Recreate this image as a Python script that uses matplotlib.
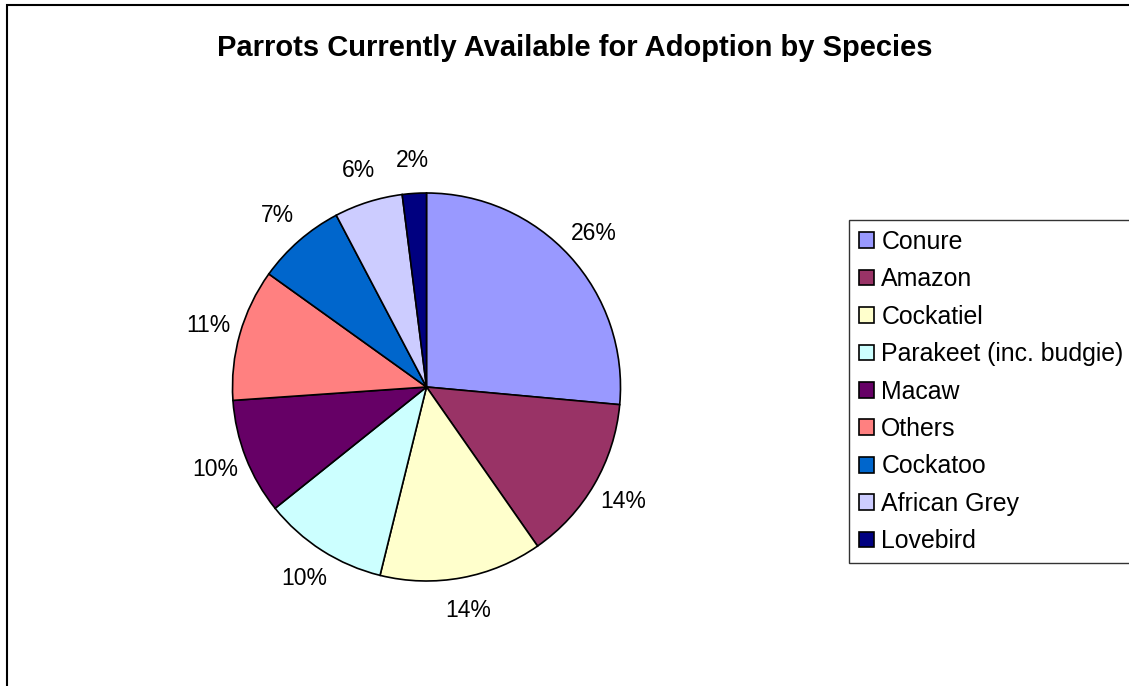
import matplotlib.pyplot as plt
from matplotlib.patches import Rectangle

plt.rcParams['font.family'] = ['Liberation Sans', 'DejaVu Sans']

species = ["Conure", "Amazon", "Cockatiel", "Parakeet (inc. budgie)", "Macaw",
           "Others", "Cockatoo", "African Grey", "Lovebird"]
# shares
shares = [26.45, 13.85, 13.55, 10.4, 9.65, 11.0, 7.4, 5.7, 2.0]
colors = ["#9999FF", "#993366", "#FFFFCC", "#CCFFFF", "#660066",
          "#FF8080", "#0066CC", "#CCCCFF", "#000080"]

fig = plt.figure(figsize=(11.29, 6.86), dpi=100)

# outer chart frame (runs off the right and bottom edges)
fig.patches.append(Rectangle((7 / 1129, -0.1), 1.2, 1 - 5 / 686 + 0.1,
                             transform=fig.transFigure, fill=False,
                             edgecolor="black", linewidth=1.5))

fig.text(575 / 1129, 1 - 48 / 686, "Parrots Currently Available for Adoption by Species",
         ha="center", va="center", fontsize=21, fontweight="bold")

r = 194
cx, cy = 426.5, 387
ax = fig.add_axes([(cx - r) / 1129, 1 - (cy + r) / 686, 2 * r / 1129, 2 * r / 686])
wedges, texts, autotexts = ax.pie(
    shares, colors=colors, startangle=90, counterclock=False,
    autopct="%1.0f%%", pctdistance=1.17,
    wedgeprops=dict(edgecolor="black", linewidth=1.2),
    textprops=dict(fontsize=16.5))
for t in autotexts:
    t.set_ha("center")
    t.set_va("center")
ax.set_xlim(-1, 1)
ax.set_ylim(-1, 1)
ax.set_aspect("equal")

leg = fig.legend(wedges, species, loc="upper left",
                 bbox_to_anchor=(849 / 1129, 1 - 220 / 686),
                 fontsize=17.9, frameon=True, fancybox=False,
                 handlelength=0.6, handleheight=0.6, handletextpad=0.3,
                 labelspacing=0.54, borderpad=0.4, borderaxespad=0)
leg.get_frame().set_edgecolor("black")
leg.get_frame().set_linewidth(1.0)

fig.savefig("out.png", dpi=100)
